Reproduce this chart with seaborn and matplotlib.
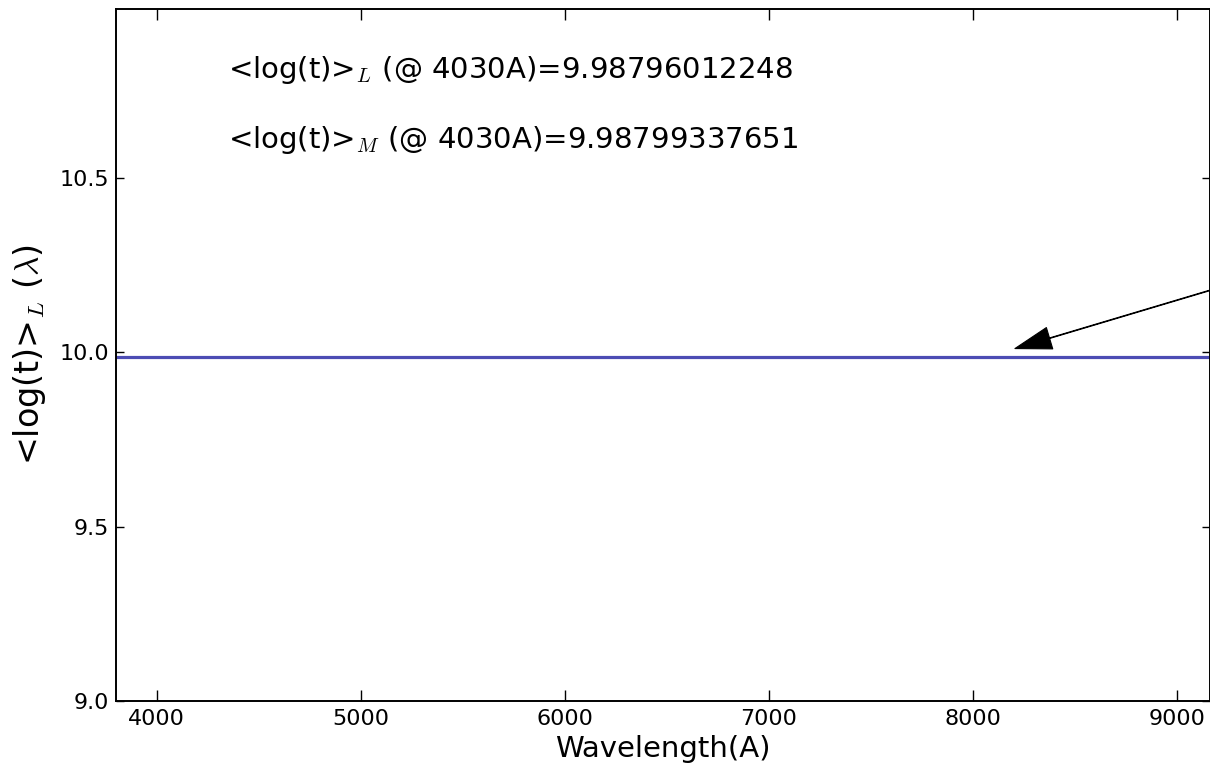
import matplotlib
matplotlib.use("Agg")
import matplotlib.pyplot as plt
import seaborn as sns
import pandas as pd

# Data
wavelength = [3800, 4030, 5000, 6000, 7000, 8000, 9000, 9200]
mean_logt_L = [9.98796, 9.98796, 9.98796, 9.98796, 9.98796, 9.98796, 9.98796, 9.98796]
x_ticks = [4000, 5000, 6000, 7000, 8000, 9000]
y_ticks = [9.0, 9.5, 10.0, 10.5]
logt_L_4030 = "9.98796012248"
logt_M_4030 = "9.98799337651"

sns.set_style("ticks")
plt.rcParams["font.family"] = ["DejaVu Sans"]
plt.rcParams["mathtext.fontset"] = "cm"
plt.rcParams["text.color"] = "black"
plt.rcParams["axes.labelcolor"] = "black"

fig = plt.figure(figsize=(12.1, 7.77), dpi=100)
ax = fig.add_axes([116 / 1210, 76 / 777, 1094 / 1210, 692 / 777])

df = pd.DataFrame({"wavelength": wavelength, "logt": mean_logt_L})
sns.lineplot(data=df, x="wavelength", y="logt", ax=ax, color="#4c4cb4", linewidth=2.3)

ax.set_xlim(3800, 9162)
ax.set_ylim(9.0, 10.985)
ax.set_xticks(x_ticks)
ax.set_yticks(y_ticks)
ax.set_yticklabels([f"{v:.1f}" for v in y_ticks])
ax.tick_params(axis="x", direction="in", length=8, width=1, top=True,
               labelsize=16, colors="black", pad=6)
ax.tick_params(axis="y", direction="in", length=6, width=1, right=True,
               labelsize=16, colors="black", pad=5)
for s in ax.spines.values():
    s.set_linewidth(1.4)
    s.set_color("black")

ax.set_xlabel("Wavelength(A)", fontsize=21, labelpad=4, color="black")
ax.set_ylabel(r"<log(t)>$_L$ ($\lambda$)", fontsize=24, labelpad=8, color="black")

ax.text(0.102, 0.900, r"<log(t)>$_L$ (@ 4030A)=" + logt_L_4030,
        transform=ax.transAxes, fontsize=21, ha="left", va="baseline", color="black")
ax.text(0.102, 0.799, r"<log(t)>$_M$ (@ 4030A)=" + logt_M_4030,
        transform=ax.transAxes, fontsize=21, ha="left", va="baseline", color="black")

ax.annotate("", xy=(8206, 10.011), xytext=(9162, 10.178), xycoords="data",
            textcoords="data", annotation_clip=False,
            arrowprops=dict(facecolor="black", edgecolor="black", width=0.4,
                            linewidth=0.8, headwidth=16, headlength=26, shrink=0))

fig.savefig("out.png", dpi=100)
